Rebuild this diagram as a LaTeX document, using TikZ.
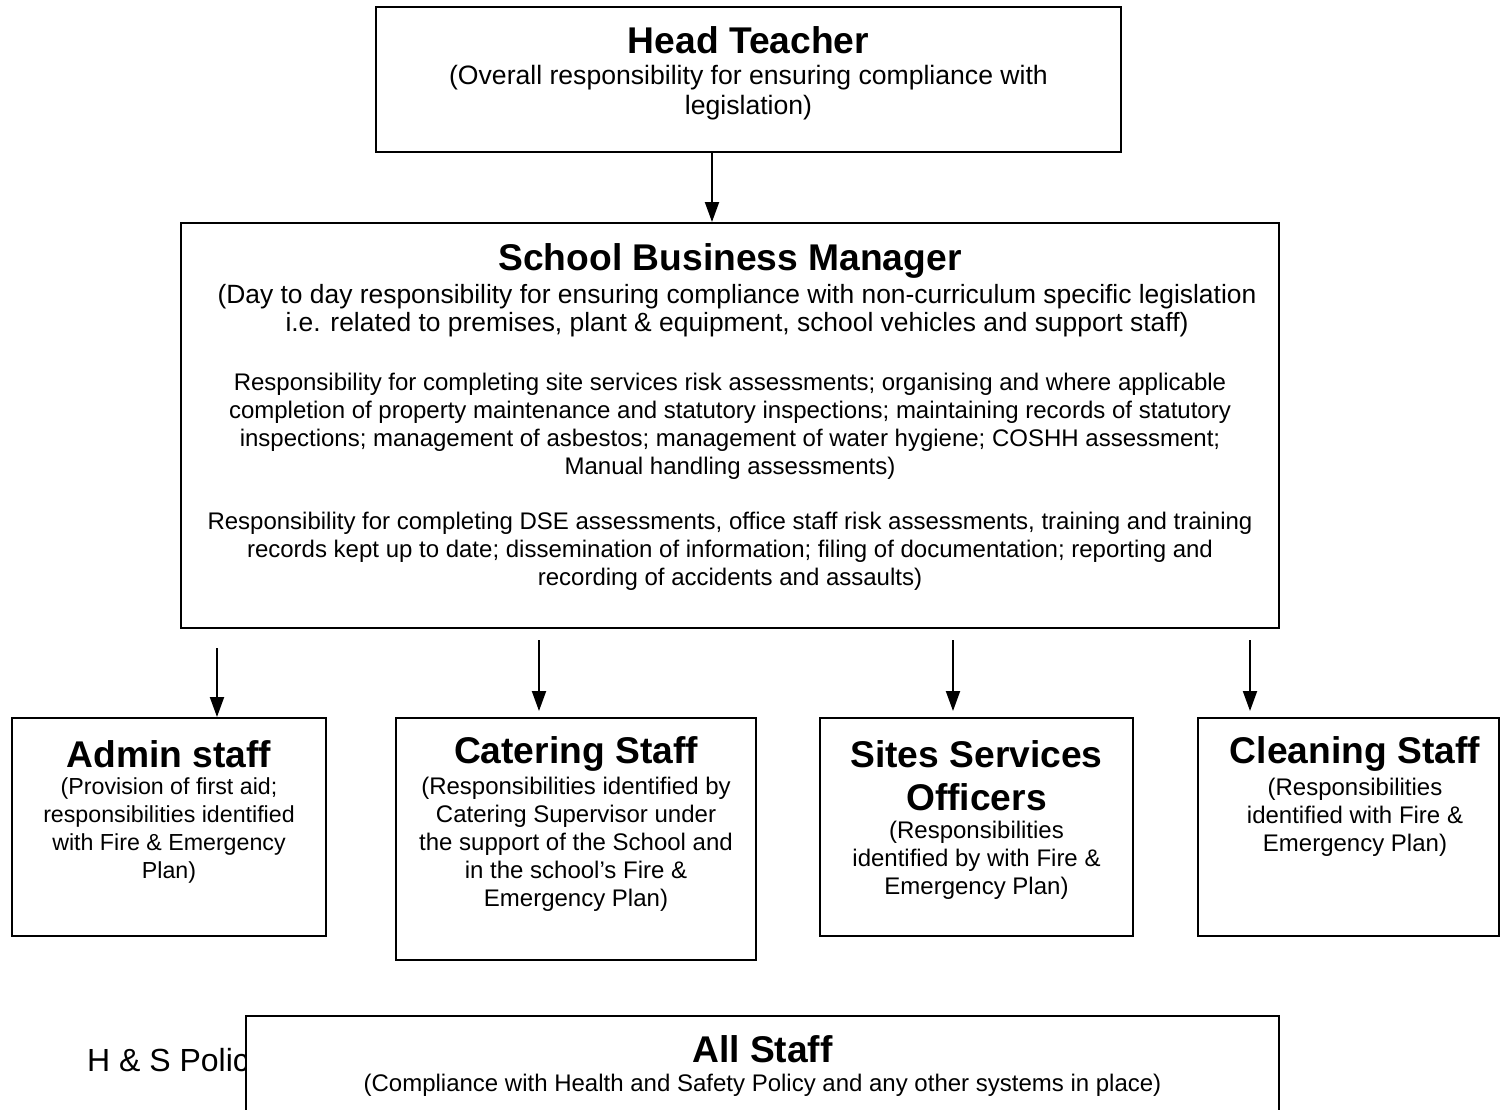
\documentclass[tikz,border=0pt]{standalone}
\usepackage{fontspec}
\setmainfont{Liberation Sans}
\usetikzlibrary{arrows.meta,positioning}

\begin{document}
\begin{tikzpicture}[x=0.5pt,y=-0.5pt,
    box/.style={draw,line width=1pt,fill=white,inner sep=0pt},
    ttl/.style={font=\fontsize{18.6}{21.5}\selectfont\bfseries,align=center},
    txt/.style={font=\fontsize{12}{14}\selectfont,align=center},
    big/.style={font=\fontsize{13.2}{14}\selectfont,align=center}, 
    arr/.style={line width=1pt,-{Triangle[length=10pt,width=7pt]}}]

    \useasboundingbox (0,0) rectangle (1500,1109);
    \clip (0,0) rectangle (1500,1109);

    % head teacher
    \node[box,minimum width=372.5pt,minimum height=72.5pt] (head) at (748.5,79.5) {};
    \node[ttl] (head-t) at (748.5,40) {Head Teacher};
    \node[big,font=\fontsize{13.3}{15}\selectfont] (head-d) at (748.5,93) {(Overall responsibility for ensuring compliance with\\legislation)};

    % school business manager
    \node[box,minimum width=549pt,minimum height=202.5pt] (sbm) at (730,425.5) {};
    \node[ttl] (sbm-t) at (730,261) {School Business Manager};
    \node[big] (sbm-d1) at (737,311) {(Day to day responsibility for ensuring compliance with non-curriculum specific legislation\\i.e. related to premises, plant \& equipment, school vehicles and support staff)};
    \node[txt] (sbm-d2) at (730,426) {Responsibility for completing site services risk assessments; organising and where applicable\\completion of property maintenance and statutory inspections; maintaining records of statutory\\inspections; management of asbestos; management of water hygiene; COSHH assessment;\\Manual handling assessments)};
    \node[txt] (sbm-d3) at (730,551) {Responsibility for completing DSE assessments, office staff risk assessments, training and training\\records kept up to date; dissemination of information; filing of documentation; reporting and\\recording of accidents and assaults)};

    % staff boxes
    \node[box,minimum width=157pt,minimum height=109pt] (admin) at (169,827) {};
    \node[ttl] (admin-t) at (169,754) {Admin staff};
    \node[txt,font=\fontsize{11.6}{14}\selectfont] (admin-d) at (169,830.5) {(Provision of first aid;\\responsibilities identified\\with Fire \& Emergency\\Plan)};

    \node[box,minimum width=180pt,minimum height=121pt] (cater) at (576,839) {};
    \node[ttl] (cater-t) at (576,754) {Catering Staff};
    \node[txt] (cater-d) at (576,844.5) {(Responsibilities identified by\\Catering Supervisor under\\the support of the School and\\in the school's Fire \&\\Emergency Plan)};

    \node[box,minimum width=156.5pt,minimum height=109pt] (sites) at (976.5,827) {};
    \node[ttl] (sites-t) at (976.5,775.5) {Sites Services\\Officers};
    \node[txt] (sites-d) at (976.5,860) {(Responsibilities\\identified by with Fire \&\\Emergency Plan)};

    \node[box,minimum width=150.5pt,minimum height=109pt] (clean) at (1348.5,827) {};
    \node[ttl] (clean-t) at (1355,754) {Cleaning Staff};
    \node[txt] (clean-d) at (1355,817) {(Responsibilities\\identified with Fire \&\\Emergency Plan)};

    % all staff
    \node[font=\fontsize{16}{18}\selectfont,anchor=west] (hs) at (80,1063) {H \& S Policy};
    \node[box,minimum width=516.5pt,minimum height=62pt] (all) at (762.5,1078) {};
    \node[ttl] (all-t) at (762.5,1049) {All Staff};
    \node[txt] (all-d) at (762.5,1085) {(Compliance with Health and Safety Policy and any other systems in place)};

    % arrows
    \coordinate (a0) at (712,0);
    \draw[arr] (a0 |- head.south) -- (a0 |- sbm.north);

    \coordinate (a1) at (217,648);
    \coordinate (a2) at (539,640);
    \coordinate (a3) at (953,640);
    \coordinate (a4) at (1250,640);
    \coordinate (b2) at (539,711);
    \coordinate (b3) at (953,711);
    \coordinate (b4) at (1250,711);
    \draw[arr] (a1) -- (a1 |- admin.north);
    \draw[arr] (a2) -- (b2);
    \draw[arr] (a3) -- (b3);
    \draw[arr] (a4) -- (b4);
\end{tikzpicture}
\end{document}
